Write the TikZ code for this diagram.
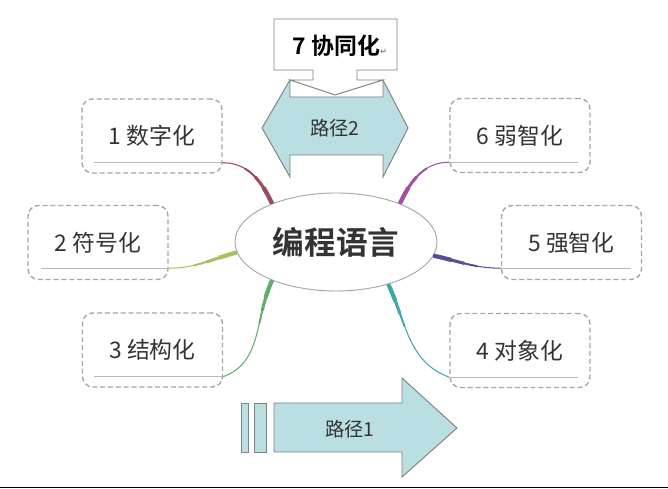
\documentclass[tikz,border=0pt]{standalone}
\usepackage{fontspec}
\setmainfont{Noto Sans CJK SC}[BoldFont={Noto Sans CJK SC Bold}]
\newfontfamily\symfont{DejaVu Sans}
\usepackage{tikz}
\usetikzlibrary{positioning,calc,shapes.geometric}

\definecolor{arrowfill}{HTML}{B9DFE2}
\definecolor{linegray}{HTML}{808080}
\definecolor{txtgray}{HTML}{333333}
\definecolor{brone}{HTML}{9C4A5E}
\definecolor{brtwo}{HTML}{A8C060}
\definecolor{brthree}{HTML}{5FAE6E}
\definecolor{brfour}{HTML}{3FA9A8}
\definecolor{brfive}{HTML}{5A4C9C}
\definecolor{brsix}{HTML}{A24FA8}

\begin{document}
\begin{tikzpicture}[
    x=0.03cm, y=0.03cm,
    topic/.style={draw=gray!70, dash pattern=on 4.2pt off 2.5pt, line width=1.2pt, rounded corners=9pt, minimum width=4.2cm, minimum height=2.22cm, font=\fontsize{19.5}{19.5}\selectfont, text=txtgray},
    uline/.style={draw=gray!55, line width=0.9pt},
    branch/.style={draw=#1, line width=0.9pt,
        preaction={draw=#1, line width=3.6pt, dash pattern=on 0.55cm off 20cm},
        preaction={draw=#1, line width=2.6pt, dash pattern=on 0.95cm off 20cm},
        preaction={draw=#1, line width=1.7pt, dash pattern=on 1.35cm off 20cm}},
    block/.style={fill=arrowfill, draw=linegray, line width=0.8pt},
    label/.style={font=\fontsize{16.5}{16.5}\selectfont, text=txtgray}
]
\useasboundingbox (0,0) rectangle (668,489);

% path 2 double arrow and the callout on top
\filldraw[block] (262,361) -- (290,409) -- (290,392) -- (383,392) -- (383,409) -- (408,361)
    -- (383,312) -- (383,334) -- (290,334) -- (290,312) -- cycle;
\node[label] (pathtwo) at (335,361) {路径2};
\filldraw[fill=white, draw=linegray, line width=0.8pt] (274,470) -- (397,470) -- (397,419) -- (357,419)
    -- (357,409) -- (383,409) -- (335,394) -- (290,409) -- (313,409) -- (313,419) -- (274,419) -- cycle;
\node[font=\fontsize{19.5}{19.5}\selectfont\bfseries] (xietong) at (340,443)
    {7 协同化{\symfont\fontsize{7}{7}\selectfont\color{gray}↵}};

% centre
\node[ellipse, draw=gray!70, line width=0.8pt, minimum width=6.06cm, minimum height=2.94cm, inner sep=0pt,
    font=\fontsize{27}{27}\selectfont\bfseries, text=txtgray] (lang) at (336,247) {编程语言};

% topics
\node[topic] (shuzi)   at (152,353)   {1 数字化};
\node[topic] (fuhao)   at (98,246.5)  {2 符号化};
\node[topic] (jiegou)  at (152.5,139) {3 结构化};
\node[topic] (duixiang) at (520,138.5) {4 对象化};
\node[topic] (qiang)   at (571.5,246.5) {5 强智化};
\node[topic] (ruo)     at (520,353.5) {6 弱智化};

% underlines
\coordinate (u1) at ($(shuzi.south east)+(0,11)$);
\coordinate (u2) at ($(fuhao.south east)+(0,12)$);
\coordinate (u3) at ($(jiegou.south east)+(0,11)$);
\coordinate (u4) at ($(duixiang.south west)+(0,11)$);
\coordinate (u5) at ($(qiang.south west)+(0,12)$);
\coordinate (u6) at ($(ruo.south west)+(0,11)$);
\draw[uline] ($(shuzi.south west)+(13,11)$) -- (u1);
\draw[uline] ($(fuhao.south west)+(14,12)$) -- (u2);
\draw[uline] ($(jiegou.south west)+(12,11)$) -- (u3);
\draw[uline] (u4) -- ($(duixiang.south east)+(-13,11)$);
\draw[uline] (u5) -- ($(qiang.south east)+(-11,12)$);
\draw[uline] (u6) -- ($(ruo.south east)+(-13,11)$);

% branches
\draw[branch=brone]   (lang.149) to[out=115, in=0] (u1);
\draw[branch=brtwo]   (lang.186) to[out=195, in=0] (u2);
\draw[branch=brthree] (lang.211) to[out=245, in=20] (u3);
\draw[branch=brfour]  (lang.321) to[out=-65, in=160] (u4);
\draw[branch=brfive]  (lang.352) to[out=-12, in=180] (u5);
\draw[branch=brsix]   (lang.31)  to[out=65, in=180] (u6);

% path 1 arrow
\filldraw[block] (241,86) rectangle (248,37);
\filldraw[block] (254,86) rectangle (266,37);
\filldraw[block] (274,86) -- (402,86) -- (402,111) -- (457,61) -- (402,12) -- (402,37) -- (274,37) -- cycle;
\node[label] (pathone) at (350,60) {路径1};

\draw[line width=0.045cm] (0,1.3) -- (668,1.3);
\end{tikzpicture}
\end{document}
